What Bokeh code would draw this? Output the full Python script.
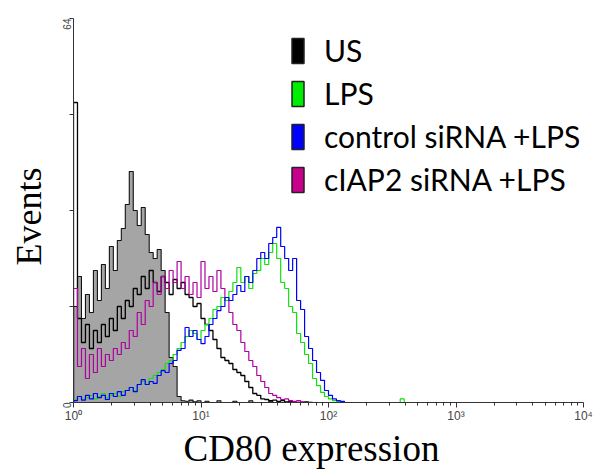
import math
from bokeh.plotting import figure
from bokeh.models import Range1d, FixedTicker, Legend, LegendItem, Title
from bokeh.embed import file_html
from bokeh.resources import INLINE

# ---------------- data (events per channel, 32 channels per decade) ----------------
CHANNELS_PER_DECADE = 32

isotype = [16, 21, 14, 18, 15, 22, 17, 23, 19, 26, 22, 27, 29, 33, 38.5, 32, 29.5, 32.5, 28, 25,
           24, 25.5, 22, 15, 7.5, 6, 1, 0.3, 0.2, 0.4, 0.1, 0.3, 0, 0.2, 0, 0, 0.3, 0, 0, 0,
           0.2, 0, 0, 0, 0.3, 0, 0, 0, 0, 0.2, 0]

us = [50, 14, 10, 13, 9, 12, 10, 13, 11, 14, 12, 16, 14, 17, 16, 19, 18, 21, 19, 22,
      20, 18.5, 21, 20, 18, 20.5, 19, 20, 18, 17.5, 16, 16.5, 14, 13, 12, 10.5, 9, 7.5, 7, 6.5,
      5.5, 5, 4.5, 3.5, 2.5, 1.5, 1.2, 0.6, 0.5, 0.3, 0.4, 0.2, 0.3, 0.1, 0.2, 0, 0, 0, 0.1, 0]

lps = [0.5, 1, 0.5, 0.8, 1.2, 0.6, 1, 1.5, 0.8, 1.2, 1.5, 1, 1.8, 2, 2.5, 2, 3, 3.5, 3, 4,
       4.5, 5, 5.5, 6.5, 7, 8, 9, 10, 11, 12, 11.5, 10.5, 12, 13, 14, 15.5, 16, 17.5, 17, 18.5,
       20, 22.5, 20, 21, 19, 21.5, 22, 24, 23, 25, 26.5, 24, 20, 19, 16, 15, 11.5, 10, 8, 6.5,
       4, 2.8, 1.7, 1, 0.6, 0.3, 0.2, 0, 0, 0, 0, 0, 0, 0, 0, 0, 0, 0, 0, 0, 0, 0, 0.6, 0]

control_sirna = [0.3, 1, 0.4, 1.2, 0.6, 1.5, 0.8, 1.2, 0.5, 1.5, 1, 1.8, 1.2, 2, 2.5, 1.8, 3, 3.8, 3, 3.5,
                 3.2, 4.5, 5.3, 5, 6.5, 7, 8.7, 9, 12.5, 11, 12, 10.5, 9.8, 11, 13, 14, 15.3, 16, 17.5, 17,
                 18, 19.5, 18.5, 21, 20, 22, 24, 25, 24, 26.5, 27.5, 29.2, 26, 24, 22, 24, 17, 15.5, 11, 9,
                 7, 5, 3.7, 2, 1.2, 0.6, 0.3, 0.2, 0]

ciap2_sirna = [19, 6, 9, 4, 8, 5, 9, 6, 8, 7, 9, 8, 10, 9, 12, 11, 15, 13, 17, 16,
               20, 18, 21, 19, 22, 20, 23.5, 19, 21, 18, 20, 17.5, 23.5, 19, 21, 18.5, 22, 19, 17, 15,
               13, 12, 10, 8.5, 7, 6, 4.5, 3.5, 2.5, 1.5, 1.2, 0.8, 0.5, 0.6, 0.3, 0.2, 0.3, 0.1, 0]

series_names = ["US", "LPS", "control siRNA +LPS", "cIAP2 siRNA +LPS"]
series_values = [us, lps, control_sirna, ciap2_sirna]
legend_colors = ["#000000", "#00ee00", "#0000ff", "#c8008c"]
line_colors = ["#000000", "#10e010", "#0000ff", "#b000a0"]
draw_order = [0, 3, 1, 2]

x_ticks = [1, 10, 100, 1000, 10000]
x_tick_labels = ["10\u2070", "10\u00b9", "10\u00b2", "10\u00b3", "10\u2074"]
y_ticks = [0, 16, 32, 48, 64]
y_tick_labels = ["0", "", "", "", "64"]


def edges(n):
    return [10 ** (i / CHANNELS_PER_DECADE) for i in range(n + 1)]


def step_xy(vals):
    e = edges(len(vals))
    xs, ys = [e[0]], [0.0]
    for i, v in enumerate(vals):
        xs += [e[i], e[i + 1]]
        ys += [v, v]
    xs.append(e[-1])
    ys.append(0.0)
    return xs, ys


p = figure(width=600, height=469, x_axis_type="log",
           x_range=Range1d(1, 10000), y_range=Range1d(0, 64),
           output_backend="svg", toolbar_location=None,
           min_border_left=72, min_border_right=17, min_border_top=18, min_border_bottom=67)
p.title.visible = False
p.outline_line_color = None
p.grid.visible = False
p.background_fill_color = "white"
p.border_fill_color = "white"

# isotype: gray filled histogram with black outline
ix, iy = step_xy(isotype)
p.varea(x=ix, y1=[0] * len(iy), y2=iy, fill_color="#a5a5a5")
p.line(ix, iy, line_color="#111111", line_width=1.1)

for k in draw_order:
    sx, sy = step_xy(series_values[k])
    p.line(sx, sy, line_color=line_colors[k], line_width=1.3 if k == 0 else 1.2)

# axes
xa = p.xaxis[0]
minors = [k * 10 ** d for d in range(4) for k in range(2, 10)]
xa.ticker = FixedTicker(ticks=x_ticks, minor_ticks=minors)
xa.major_label_overrides = dict(zip(x_ticks, x_tick_labels))
xa.major_tick_in = 0
xa.major_tick_out = 5
xa.minor_tick_in = 0
xa.minor_tick_out = 3
xa.axis_line_color = "#333333"
xa.major_tick_line_color = "#333333"
xa.minor_tick_line_color = "#333333"
xa.major_label_text_font = "Liberation Sans"
xa.major_label_text_font_size = "12px"
xa.major_label_standoff = 1

ya = p.yaxis[0]
ya.ticker = FixedTicker(ticks=y_ticks, minor_ticks=[])
ya.major_label_overrides = dict(zip(y_ticks, y_tick_labels))
ya.major_label_orientation = math.pi / 2
ya.major_tick_in = 0
ya.major_tick_out = 4
ya.minor_tick_out = 0
ya.axis_line_color = "#333333"
ya.major_tick_line_color = "#333333"
ya.major_label_text_font = "Liberation Sans"
ya.major_label_text_font_size = "10px"
ya.major_label_standoff = 3

# legend with rectangular swatches (hidden histogram bars carry the swatch style)
items = []
for lab, col, vals in zip(series_names, legend_colors, series_values):
    e = edges(len(vals))
    r = p.quad(left=e[:-1], right=e[1:], top=vals, bottom=0, fill_color=col,
               line_color="#222222", line_width=1.5)
    r.visible = False
    items.append(LegendItem(label=lab, renderers=[r]))
legend = Legend(items=items, location=(217, 205), glyph_width=15, glyph_height=31,
                spacing=7, label_standoff=19, padding=0, margin=0,
                border_line_color=None, background_fill_alpha=0,
                inactive_fill_alpha=0,
                label_text_font="Lato", label_text_font_size="30px",
                label_text_color="black")
p.add_layout(legend)

p.add_layout(Title(text="CD80 expression", align="left", offset=110, standoff=0,
                   text_font="Liberation Serif", text_font_size="37px",
                   text_font_style="normal", text_color="black"), "below")
p.add_layout(Title(text="Events", align="left", offset=137, standoff=13,
                   text_font="Liberation Serif", text_font_size="36px",
                   text_font_style="normal", text_color="black"), "left")

open("out.html", "w").write(file_html(p, INLINE))
